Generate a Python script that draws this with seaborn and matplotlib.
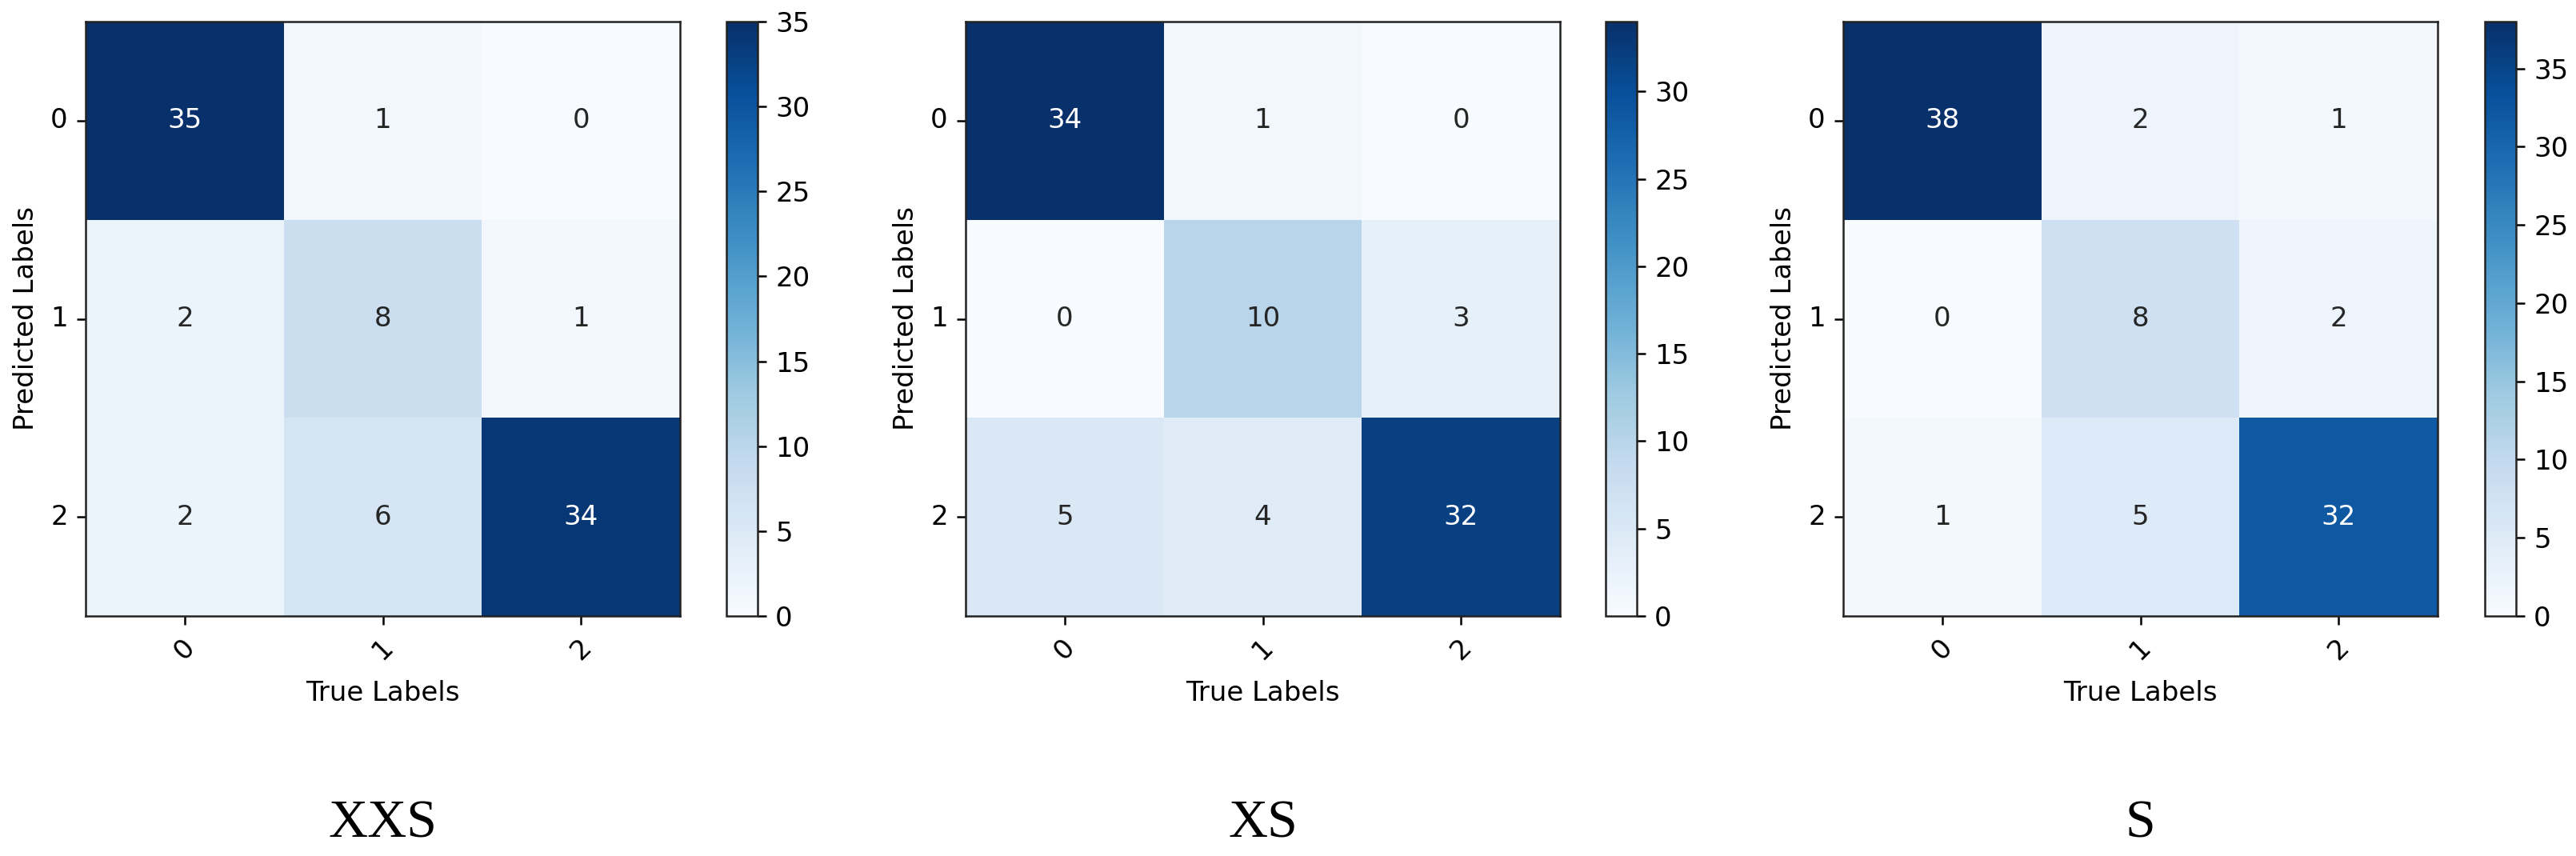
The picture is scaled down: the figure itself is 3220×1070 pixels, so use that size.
import matplotlib
matplotlib.use("Agg")
import matplotlib.pyplot as plt
import seaborn as sns
import numpy as np


# %%
ETIQUETAS = ["0", "1", "2"]
TITULOS = ["XXS", "XS", "S"]

MATRIZ_XXS = [[35, 1, 0],
              [2, 8, 1],
              [2, 6, 34]]
MATRIZ_XS = [[34, 1, 0],
             [0, 10, 3],
             [5, 4, 32]]
MATRIZ_S = [[38, 2, 1],
            [0, 8, 2],
            [1, 5, 32]]

MATRICES = [MATRIZ_XXS, MATRIZ_XS, MATRIZ_S]

# posiciones en pixeles de cada panel (izquierda del mapa, izquierda de la barra)
ANCHO, ALTO = 3220, 1070
IZQ_MAPA = [107, 1207, 2304]
IZQ_BARRA = [908, 2007, 3106]
LADO = 743
ABAJO = 1070 - 770
ANCHO_BARRA = 39

TAM_TEXTO = 24.5

plt.rcParams["font.family"] = ["DejaVu Sans"]
plt.rcParams["font.size"] = TAM_TEXTO


# %%
def graficar_matriz(fig, matriz, izq_mapa, izq_barra, titulo):
    ax = fig.add_axes([izq_mapa / ANCHO, ABAJO / ALTO, LADO / ANCHO, LADO / ALTO])
    cax = fig.add_axes([izq_barra / ANCHO, ABAJO / ALTO, ANCHO_BARRA / ANCHO, LADO / ALTO])

    sns.heatmap(np.array(matriz), annot=True, fmt="d", cmap="Blues",
                xticklabels=ETIQUETAS, yticklabels=ETIQUETAS,
                ax=ax, cbar_ax=cax, annot_kws={"size": TAM_TEXTO})

    ax.set_xlabel("True Labels", fontsize=TAM_TEXTO, labelpad=14)
    ax.set_ylabel("Predicted Labels", fontsize=TAM_TEXTO, labelpad=10)
    plt.setp(ax.get_xticklabels(), rotation=45, fontsize=TAM_TEXTO)
    plt.setp(ax.get_yticklabels(), rotation=0, fontsize=TAM_TEXTO)
    ax.tick_params(length=8, width=1.8, pad=8)

    for spine in ax.spines.values():
        spine.set_visible(True)
        spine.set_linewidth(1.8)
        spine.set_color("#222222")

    cbar = ax.collections[0].colorbar
    cbar.outline.set_linewidth(1.8)
    cbar.outline.set_edgecolor("#222222")
    cax.tick_params(labelsize=TAM_TEXTO, length=8, width=1.8, pad=8)

    fig.text((izq_mapa + LADO / 2) / ANCHO, (ALTO - 1030) / ALTO, titulo,
             ha="center", va="center", fontsize=49, family="Liberation Serif")


# %%
fig = plt.figure(figsize=(ANCHO / 100, ALTO / 100), dpi=100)

for matriz, izq_mapa, izq_barra, titulo in zip(MATRICES, IZQ_MAPA, IZQ_BARRA, TITULOS):
    graficar_matriz(fig, matriz, izq_mapa, izq_barra, titulo)

fig.savefig("out.png", dpi=100, facecolor="white")
